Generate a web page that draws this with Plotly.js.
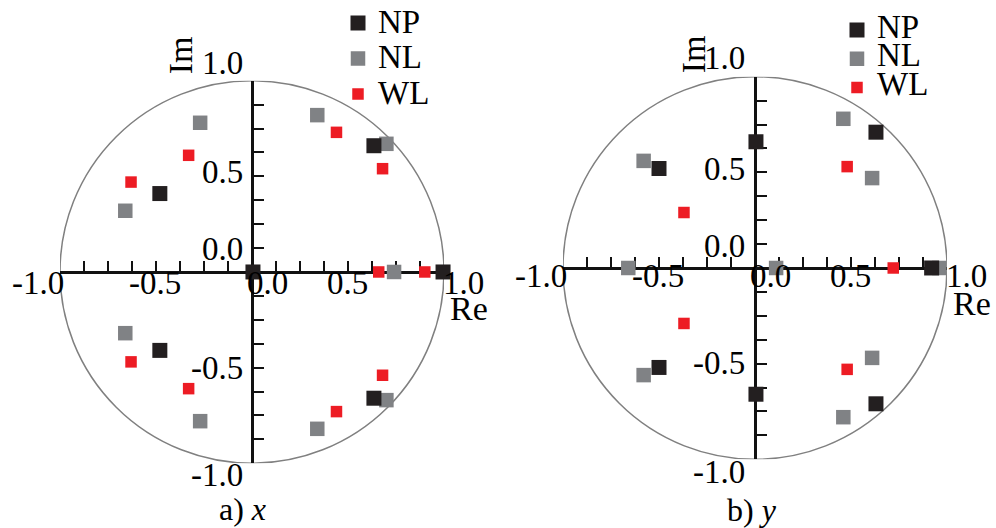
<!DOCTYPE html>
<html><head><meta charset="utf-8">
<script src="https://cdn.plot.ly/plotly-3.0.1.min.js"></script>
<style>html,body{margin:0;padding:0;background:#fff}#chart{width:996px;height:528px}</style>
</head><body><div id="chart"></div>
<script>
// ---------- data ----------
const seriesNames = ['NP', 'NL', 'WL'];
// panel a) x
const a_NP_re = [0.005, 0.995, -0.48, -0.48, 0.635, 0.635];
const a_NP_im = [0, 0, 0.41, -0.41, 0.66, -0.66];
const a_NL_re = [-0.27, -0.27, -0.66, -0.66, 0.34, 0.34, 0.70, 0.70, 0.74];
const a_NL_im = [0.78, -0.78, 0.32, -0.32, 0.82, -0.82, 0.67, -0.67, 0];
const a_WL_re = [-0.33, -0.33, -0.63, -0.63, 0.44, 0.44, 0.68, 0.68, 0.66, 0.90];
const a_WL_im = [0.61, -0.61, 0.47, -0.47, 0.73, -0.73, 0.54, -0.54, 0, 0];
// panel b) y
const b_NP_re = [0.005, 0.005, -0.50, -0.50, 0.63, 0.63, 0.92];
const b_NP_im = [0.66, -0.66, 0.52, -0.52, 0.71, -0.71, 0];
const b_NL_re = [-0.58, -0.58, 0.46, 0.46, 0.61, 0.61, -0.66, 0.11, 0.96];
const b_NL_im = [0.56, -0.56, 0.78, -0.78, 0.47, -0.47, 0, 0, 0];
const b_WL_re = [-0.37, -0.37, 0.48, 0.48, 0.72];
const b_WL_im = [0.29, -0.29, 0.53, -0.53, 0];
const tickValues = [-1.0, -0.5, 0.0, 0.5, 1.0];
const tickLabels = ['-1.0', '-0.5', '0.0', '0.5', '1.0'];
const panelCaptions = ['a) <i>x</i>', 'b) <i>y</i>'];
const axisTitles = ['Re', 'Im'];

// ---------- styling ----------
const FONT = 'Liberation Serif, "Times New Roman", serif';
const W = 996, H = 528, R = 192;
const colors = {NP: '#231f20', NL: '#808285', WL: '#ed1c24'};
const sizes = {NP: 15, NL: 14.5, WL: 11.5};
const ranks = {NP: 1, NL: 2, WL: 3};

const panels = [
  {cx: 252, cy: 271, xa: 'x', ya: 'y', legend: 'legend',
   data: {NP: [a_NP_re, a_NP_im], NL: [a_NL_re, a_NL_im], WL: [a_WL_re, a_WL_im]},
   xlabDy: -11.5, ylabDx: -7,
   yShift: {'1': 17.5, '0.5': 4, '0': 22.5, '-0.5': 0, '-1': -11.5},
   imPos: [180, 53.5], rePos: [469, 308], capPos: [242, 509]},
  {cx: 755, cy: 267, xa: 'x2', ya: 'y2', legend: 'legend2',
   data: {NP: [b_NP_re, b_NP_im], NL: [b_NL_re, b_NL_im], WL: [b_WL_re, b_WL_im]},
   xlabDy: -8.5, ylabDx: -8.5,
   yShift: {'1': 18.5, '0.5': 3.5, '0': 22, '-0.5': 1, '-1': -12.5},
   imPos: [693.5, 53], rePos: [972, 302.5], capPos: [752, 510]}
];

const traces = [];
const annotations = [];
const shapes = [];
const layout = {
  width: W, height: H,
  margin: {l: 0, r: 0, t: 0, b: 0, pad: 0},
  paper_bgcolor: '#ffffff', plot_bgcolor: 'rgba(0,0,0,0)',
  font: {family: FONT, color: '#000', size: 33},
  showlegend: true,
  annotations: annotations, shapes: shapes
};

function xShiftFor(v) {
  if (v === -1) return -22;
  if (v === 1) return 19;
  if (v === 0) return 15;
  return -1;
}

panels.forEach((p, i) => {
  const xKey = p.xa === 'x' ? 'xaxis' : 'xaxis2';
  const yKey = p.ya === 'y' ? 'yaxis' : 'yaxis2';
  const axCommon = {
    range: [-1, 1], showgrid: false, zeroline: false, showticklabels: false,
    showline: true, linewidth: 3, linecolor: '#111',
    ticks: 'inside', ticklen: 10, tickwidth: 2, tickcolor: '#111',
    tick0: 0, dtick: 0.125, anchor: 'free', layer: 'below traces', fixedrange: true
  };
  layout[xKey] = Object.assign({}, axCommon, {
    domain: [(p.cx - R) / W, (p.cx + R) / W],
    position: 1 - p.cy / H
  });
  layout[yKey] = Object.assign({}, axCommon, {
    domain: [1 - (p.cy + R) / H, 1 - (p.cy - R) / H],
    position: p.cx / W
  });

  ['NL', 'WL', 'NP'].forEach(name => {
    traces.push({
      type: 'scatter', mode: 'markers',
      x: p.data[name][0], y: p.data[name][1],
      xaxis: p.xa, yaxis: p.ya,
      name: '<span style="font-size:33px">' + name + '</span>',
      legend: p.legend, legendrank: ranks[name],
      marker: {symbol: 'square', size: sizes[name], color: colors[name], line: {width: 0}},
      cliponaxis: false, hoverinfo: 'skip'
    });
  });

  shapes.push({type: 'circle', xref: p.xa, yref: p.ya, x0: -1, y0: -1, x1: 1, y1: 1,
    line: {color: '#808080', width: 1.5}, layer: 'below'});

  tickValues.forEach((v, k) => {
    annotations.push({xref: p.xa, yref: p.ya, x: v, y: 0, text: tickLabels[k],
      showarrow: false, xanchor: 'center', yanchor: 'middle',
      xshift: xShiftFor(v), yshift: p.xlabDy, font: {size: 33}});
    annotations.push({xref: p.xa, yref: p.ya, x: 0, y: v, text: tickLabels[k],
      showarrow: false, xanchor: 'right', yanchor: 'middle',
      xshift: p.ylabDx, yshift: p.yShift[String(v)], font: {size: 33}});
  });

  annotations.push({xref: 'paper', yref: 'paper', x: p.imPos[0] / W, y: 1 - p.imPos[1] / H,
    text: axisTitles[1], textangle: -90, showarrow: false, xanchor: 'center', yanchor: 'middle',
    font: {size: 34}});
  annotations.push({xref: 'paper', yref: 'paper', x: p.rePos[0] / W, y: 1 - p.rePos[1] / H,
    text: axisTitles[0], showarrow: false, xanchor: 'center', yanchor: 'middle',
    font: {size: 34}});
  annotations.push({xref: 'paper', yref: 'paper', x: p.capPos[0] / W, y: 1 - p.capPos[1] / H,
    text: panelCaptions[i], showarrow: false, xanchor: 'center', yanchor: 'middle',
    font: {size: 32}});
});

layout.legend = {x: 338 / W, xanchor: 'left', y: 1 + 1.75 / H, yanchor: 'top',
  font: {size: 25, family: FONT, color: '#000'}, bgcolor: 'rgba(0,0,0,0)', borderwidth: 0,
  tracegroupgap: 0, itemclick: false, itemdoubleclick: false};
layout.legend2 = {x: 837 / W, xanchor: 'left', y: 1 - 8.6 / H, yanchor: 'top',
  font: {size: 19.8, family: FONT, color: '#000'}, bgcolor: 'rgba(0,0,0,0)', borderwidth: 0,
  tracegroupgap: 0, itemclick: false, itemdoubleclick: false};

Plotly.newPlot('chart', traces, layout, {displayModeBar: false, staticPlot: true});
</script>
</body></html>
